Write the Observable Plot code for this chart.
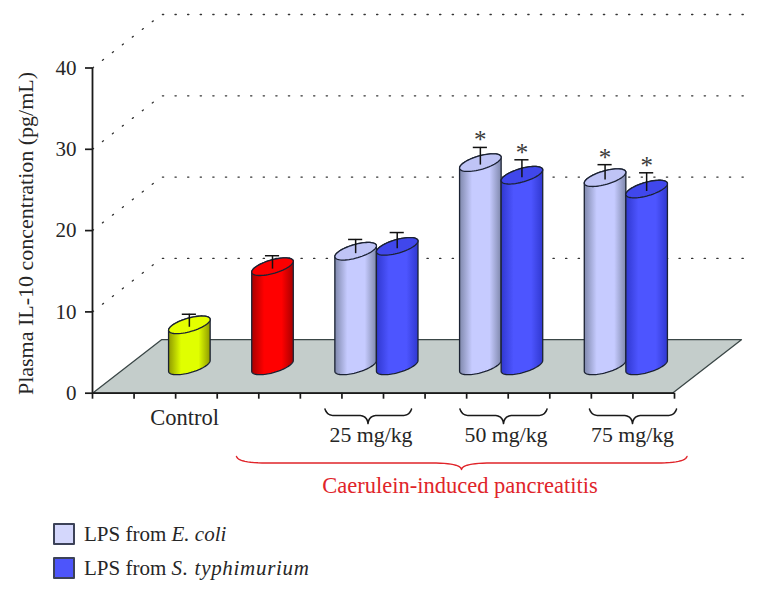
<!DOCTYPE html>
<html>
<head>
<meta charset="utf-8">
<script src="https://cdn.jsdelivr.net/npm/d3@7"></script>
<script src="https://cdn.jsdelivr.net/npm/@observablehq/plot@0.6"></script>
<style>
  html, body { margin: 0; padding: 0; background: #fff; }
  svg { display: block; }
  #legend { font: 21px "Liberation Serif", serif; color: #262626; padding: 13px 0 0 53px; }
  .row { display: flex; align-items: center; height: 22px; margin-bottom: 12px; }
  .sw { width: 18px; height: 18px; border: 2px solid #3c4258; border-radius: 1px; margin-right: 9px; }
</style>
</head>
<body>
<div id="chart"></div>
<div id="legend"></div>
<script>
// ---- data ----
const barLabels  = ["Control", "Caerulein", "E. coli 25", "S. typhimurium 25", "E. coli 50", "S. typhimurium 50", "E. coli 75", "S. typhimurium 75"];
const barSlots   = [1.5, 3.5, 5.5, 6.5, 8.5, 9.5, 11.5, 12.5];
const barValues  = [5.05, 12.2, 14.1, 14.7, 25.0, 23.45, 23.15, 21.75];
const barErrors  = [1.3, 1.35, 1.45, 1.7, 1.87, 1.9, 1.6, 2.0];
const barStars   = [false, false, false, false, true, true, true, true];
const barKinds   = ["yellow", "red", "light", "dark", "light", "dark", "light", "dark"];
const yTicks     = [0, 10, 20, 30, 40];
const gridValues = [10, 20, 30, 40];
const xSlots     = d3.range(0, 15);
const doseLabels = ["25 mg/kg", "50 mg/kg", "75 mg/kg"];
const legendItems = [
  { color: "#d4d7fc", html: "LPS from <i>E. coli</i>" },
  { color: "#4d55fb", html: "LPS from <i style=\"letter-spacing:.7px\">S. typhimurium</i>" }
];

// ---- pseudo-3D frame (data units) ----
const slotPx = 582 / 14, unitPx = 325.2 / 40;
const X = px => (px - 92) / slotPx;          // page x to slot
const Y = py => (392.7 - py) / unitPx;       // page y to value
const depthX = 69 / slotPx, depthY = 53.5 / unitPx;
const base = 3.36;                            // bars stand mid-depth
const halfW = 0.5, tilt = 0.66, bulge = 0.86;

const palettes = {
  yellow: { edge: "#8f9a00", mid: "#e0ff00", top: "#e4ff00" },
  red:    { edge: "#a80000", mid: "#ff0000", top: "#fb0000" },
  light:  { edge: "#7f88ac", mid: "#c6cbff", top: "#bfc4f6" },
  dark:   { edge: "#3038d0", mid: "#4d55ff", top: "#4047ec" }
};

const defsMark = () => {
  const d = document.createElementNS("http://www.w3.org/2000/svg", "defs");
  d.innerHTML = Object.entries(palettes).map(([k, p]) =>
    `<linearGradient id="cyl-${k}" x1="0" x2="1" y1="0" y2="0">
       <stop offset="0" stop-color="${p.edge}"/><stop offset="0.3" stop-color="${p.mid}"/>
       <stop offset="0.72" stop-color="${p.mid}"/><stop offset="1" stop-color="${p.edge}"/>
     </linearGradient>`).join("");
  return d;
};

const arc = (xc, v, t0, t1, n = 40) => d3.range(n + 1).map(i => {
  const t = t0 + (t1 - t0) * i / n;
  return { x: xc + halfW * Math.cos(t), y: v + tilt * Math.cos(t) + bulge * Math.sin(t) };
});

const barMarks = barSlots.flatMap((s, i) => {
  const xc = s + depthX / 2, top = base + barValues[i], kind = barKinds[i];
  const body = [...arc(xc, base, Math.PI, 2 * Math.PI), ...arc(xc, top, 0, Math.PI)];
  body.push(body[0]);
  const lid = arc(xc, top, 0, 2 * Math.PI, 60);
  return [
    Plot.line(body, { x: "x", y: "y", fill: `url(#cyl-${kind})`, stroke: "#1b2233", strokeWidth: 1.3 }),
    Plot.line(lid, { x: "x", y: "y", fill: palettes[kind].top, stroke: "#1b2233", strokeWidth: 1.3 })
  ];
});

const errorData = barSlots.map((s, i) => ({
  x: s + depthX / 2, y1: base + barValues[i] - 0.3, y2: base + barValues[i] + barErrors[i]
}));
const starData = errorData.filter((d, i) => barStars[i]);

// curly braces, page geometry converted to data units
const brace = (id, x0, x1, xm, yTop, yFlat, yDip, r) => {
  const q = (a, c, b) => d3.range(13).map(i => {
    const t = i / 12, u = 1 - t;
    return [u*u*a[0] + 2*u*t*c[0] + t*t*b[0], u*u*a[1] + 2*u*t*c[1] + t*t*b[1]];
  });
  const pts = [
    ...q([x0, yTop], [x0 + 2, yFlat], [x0 + r, yFlat]),
    ...q([xm - r, yFlat], [xm - 1, yFlat], [xm, yDip]),
    ...q([xm, yDip], [xm + 1, yFlat], [xm + r, yFlat]),
    ...q([x1 - r, yFlat], [x1 - 2, yFlat], [x1, yTop])
  ];
  return pts.map(p => ({ id, x: X(p[0]), y: Y(p[1]) }));
};
const blackBraces = [
  ...brace("a", 324.5, 411, 367.5, 408.5, 415, 423, 9),
  ...brace("b", 459.5, 546.5, 503, 408.5, 415, 423, 9),
  ...brace("c", 589, 676, 632, 408.5, 415, 423, 9)
];
const redBrace = brace("r", 236, 686.5, 461, 456, 462.5, 469, 30);

const grid = gridValues.flatMap(v => [
  { v, x: 0, y: v },
  { v, x: depthX, y: v + depthY },
  { v, x: 14 + depthX, y: v + depthY }
]);
const floorEnd = 14 - 0.05;
const floor = [
  { x: 0, y: 0 }, { x: floorEnd, y: 0 }, { x: floorEnd + depthX, y: depthY }, { x: depthX, y: depthY }, { x: 0, y: 0 }
];

const H = 510, ink = "#262626";
const chart = Plot.plot({
  width: 758, height: H,
  marginLeft: 92, marginRight: 84, marginTop: 67.5, marginBottom: H - 392.7,
  x: { type: "linear", domain: [0, 14] },
  y: { type: "linear", domain: [0, 40] },
  style: { fontFamily: "Liberation Serif, serif", fontSize: "21px", color: ink, background: "#fff", overflow: "visible" },
  marks: [
    defsMark,
    Plot.line(grid, { x: "x", y: "y", z: "v", stroke: "#333", strokeWidth: 1.3, strokeDasharray: "1.3 11.3", curve: "linear" }),
    Plot.line(floor, { x: "x", y: "y", fill: "#c4cdcb", stroke: "#3a4646", strokeWidth: 1.3 }),
    Plot.axisY(yTicks, { anchor: "left", tickSize: 7, tickPadding: 9, strokeWidth: 1.7, stroke: "#1a1a1a", fontSize: 21, label: null, fill: ink }),
    Plot.axisX(xSlots, { anchor: "bottom", tickSize: 6, strokeWidth: 1.7, stroke: "#1a1a1a", tickFormat: () => "", label: null }),
    Plot.ruleX([0], { y1: 0, y2: 40, stroke: "#1a1a1a", strokeWidth: 1.8 }),
    Plot.ruleY([0], { x1: 0, x2: 14, stroke: "#1a1a1a", strokeWidth: 1.8 }),
    ...barMarks,
    Plot.ruleX(errorData, { x: "x", y1: "y1", y2: "y2", stroke: "#111", strokeWidth: 1.5 }),
    Plot.ruleY(errorData, { y: "y2", x1: d => d.x - 0.17, x2: d => d.x + 0.17, stroke: "#111", strokeWidth: 1.5 }),
    Plot.text(starData, { x: "x", y: "y2", text: () => "*", fontSize: 25, dy: -7, lineAnchor: "middle", fill: "#3a3a3a" }),
    Plot.text(["Plasma IL-10 concentration (pg/mL)"], { x: X(25), y: Y(233), rotate: -90, fontSize: 22, fill: ink }),
    Plot.text(["Control"], { x: X(184), y: Y(424), lineAnchor: "bottom", fontSize: 22.5, fill: ink }),
    Plot.text(doseLabels, { x: (d, i) => X([370.5, 505.5, 632][i]), y: Y(441), lineAnchor: "bottom", fontSize: 21.8, fill: ink }),
    Plot.line(blackBraces, { x: "x", y: "y", z: "id", stroke: "#1a1a1a", strokeWidth: 1.6 }),
    Plot.line(redBrace, { x: "x", y: "y", z: "id", stroke: "#e0242a", strokeWidth: 1.4 }),
    Plot.text(["Caerulein-induced pancreatitis"], { x: X(459.5), y: Y(492), lineAnchor: "bottom", fontSize: 22.5, fill: "#e0242a" })
  ]
});
document.getElementById("chart").append(chart);

document.getElementById("legend").innerHTML = legendItems.map(d =>
  `<div class="row"><span class="sw" style="background:${d.color}"></span><span>${d.html}</span></div>`).join("");
</script>
</body>
</html>
